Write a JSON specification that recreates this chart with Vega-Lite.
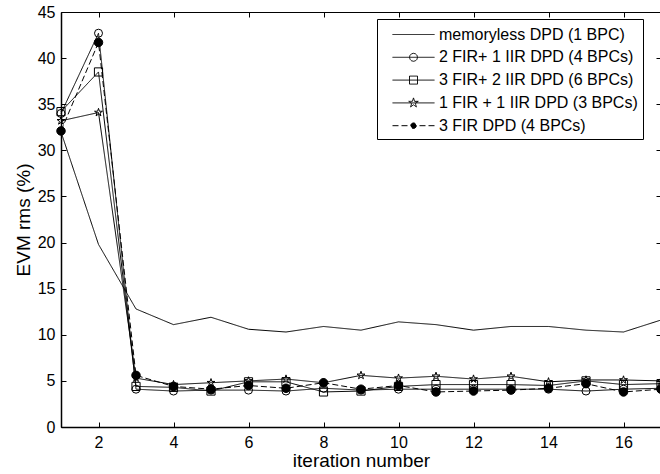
{
  "$schema": "https://vega.github.io/schema/vega-lite/v6.json",
  "width": 600,
  "height": 415,
  "autosize": {"type": "none"},
  "padding": {"left": 61, "top": 12, "right": 0, "bottom": 47},
  "background": "white",
  "config": {
    "view": {"stroke": "black", "strokeWidth": 1},
    "font": "Liberation Sans",
    "axis": {
      "grid": false,
      "domainColor": "black",
      "domainWidth": 1.5,
      "tickColor": "black",
      "tickSize": -5,
      "labelColor": "black",
      "titleColor": "black",
      "labelFont": "Liberation Sans",
      "labelFontSize": 16,
      "titleFont": "Liberation Sans",
      "titleFontSize": 19,
      "titleFontWeight": "normal"
    }
  },
  "data": {
    "values": [
      {"x": 1, "A": 32.0, "B": 34.0, "C": 34.2, "D": 33.2, "E": 32.1},
      {"x": 2, "A": 19.8, "B": 42.7, "C": 38.5, "D": 34.1, "E": 41.7},
      {"x": 3, "A": 12.8, "B": 4.1, "C": 4.4, "D": 5.3, "E": 5.6},
      {"x": 4, "A": 11.1, "B": 3.9, "C": 4.3, "D": 4.6, "E": 4.4},
      {"x": 5, "A": 11.9, "B": 4.0, "C": 3.9, "D": 4.8, "E": 4.1},
      {"x": 6, "A": 10.6, "B": 4.0, "C": 4.9, "D": 5.0, "E": 4.5},
      {"x": 7, "A": 10.3, "B": 3.9, "C": 4.9, "D": 5.2, "E": 4.2},
      {"x": 8, "A": 10.9, "B": 4.2, "C": 3.8, "D": 4.8, "E": 4.8},
      {"x": 9, "A": 10.5, "B": 4.0, "C": 3.9, "D": 5.6, "E": 4.1},
      {"x": 10, "A": 11.4, "B": 4.1, "C": 4.4, "D": 5.3, "E": 4.5},
      {"x": 11, "A": 11.1, "B": 4.1, "C": 4.6, "D": 5.5, "E": 3.8},
      {"x": 12, "A": 10.5, "B": 4.1, "C": 4.6, "D": 5.2, "E": 3.9},
      {"x": 13, "A": 10.9, "B": 4.1, "C": 4.6, "D": 5.5, "E": 4.0},
      {"x": 14, "A": 10.9, "B": 4.1, "C": 4.5, "D": 4.9, "E": 4.2},
      {"x": 15, "A": 10.5, "B": 3.9, "C": 5.0, "D": 5.1, "E": 4.7},
      {"x": 16, "A": 10.3, "B": 4.1, "C": 4.6, "D": 5.1, "E": 3.8},
      {"x": 17, "A": 11.6, "B": 4.2, "C": 4.7, "D": 5.0, "E": 4.1}
    ]
  },
  "transform": [{"fold": ["A", "B", "C", "D", "E"], "as": ["s", "y"]}],
  "layer": [
    {
      "mark": {"type": "line", "strokeWidth": 1},
      "encoding": {
        "x": {
          "field": "x", "type": "quantitative",
          "scale": {"domain": [1, 17], "nice": false, "zero": false},
          "axis": {"values": [2, 4, 6, 8, 10, 12, 14, 16], "title": "iteration number", "labelPadding": 12, "titlePadding": 1}
        },
        "y": {
          "field": "y", "type": "quantitative",
          "scale": {"domain": [0, 45], "nice": false},
          "axis": {"values": [0, 5, 10, 15, 20, 25, 30, 35, 40, 45], "title": "EVM rms (%)", "labelPadding": 11, "titlePadding": 4}
        },
        "stroke": {
          "field": "s", "type": "nominal",
          "scale": {"domain": ["A", "B", "C", "D", "E"], "range": ["black", "black", "black", "black", "black"]},
          "legend": {
            "orient": "none", "legendX": 316, "legendY": 7,
            "title": null,
            "strokeColor": "black", "fillColor": "white", "padding": 5,
            "symbolSize": 400, "symbolStrokeWidth": 1, "symbolStrokeColor": "black",
            "labelFont": "Liberation Sans", "labelFontSize": 16, "labelColor": "black",
            "labelOffset": 36, "rowPadding": 3.8, "labelLimit": 300,
            "labelExpr": "datum.value=='A'?'memoryless DPD (1 BPC)':datum.value=='B'?'2 FIR+ 1 IIR DPD (4 BPCs)':datum.value=='C'?'3 FIR+ 2 IIR DPD (6 BPCs)':datum.value=='D'?'1 FIR + 1 IIR DPD (3 BPCs)':'3 FIR DPD (4 BPCs)'",
            "encode": {
              "symbols": {
                "update": {
                  "shape": {"signal": "datum.value=='A'?'M-1.3,0L-1.3,0M0,0H4.2':datum.value=='B'?'M-1.3,0L-1.3,0M0,0H4.2M2.5,0L2.446,0.2L2.3,0.346L2.1,0.4L1.9,0.346L1.754,0.2L1.7,0L1.754,-0.2L1.9,-0.346L2.1,-0.4L2.3,-0.346L2.446,-0.2Z':datum.value=='C'?'M-1.3,0L-1.3,0M0,0H4.2M1.7,-0.4H2.5V0.4H1.7Z':datum.value=='D'?'M-1.3,0L-1.3,0M0,0H4.2M2.1,-0.5L2.212,-0.155L2.576,-0.155L2.282,0.059L2.394,0.405L2.1,0.191L1.806,0.405L1.918,0.059L1.624,-0.155L1.988,-0.155Z':'M-1.3,0L-1.3,0M0,0H4.2M2.38,0L2.34,0.14L2.24,0.24L2.1,0.28L1.96,0.24L1.86,0.14L1.82,0L1.86,-0.14L1.96,-0.24L2.1,-0.28L2.24,-0.24L2.34,-0.14Z'"},
                  "fill": {"signal": "datum.value=='E'?'black':'transparent'"},
                  "strokeDash": {"signal": "datum.value=='E'?[6,3]:[1,0]"}
                }
              }
            }
          }
        },
        "strokeDash": {
          "field": "s", "type": "nominal",
          "scale": {"domain": ["A", "B", "C", "D", "E"], "range": [[1, 0], [1, 0], [1, 0], [1, 0], [6, 3]]},
          "legend": null
        }
      }
    },
    {
      "transform": [{"filter": "datum.s != 'A'"}],
      "mark": {"type": "point", "filled": true, "opacity": 1, "stroke": "black", "strokeWidth": 1},
      "encoding": {
        "x": {
          "field": "x", "type": "quantitative",
          "axis": {"orient": "top", "labels": false, "title": null, "domain": false, "values": [2, 4, 6, 8, 10, 12, 14, 16]}
        },
        "y": {
          "field": "y", "type": "quantitative",
          "axis": {"orient": "right", "labels": false, "title": null, "domain": false, "values": [0, 5, 10, 15, 20, 25, 30, 35, 40, 45]}
        },
        "shape": {
          "field": "s", "type": "nominal",
          "scale": {"domain": ["B", "C", "D", "E"], "range": ["circle", "square", "M0,-1L0.225,-0.309L0.951,-0.309L0.363,0.118L0.588,0.809L0,0.382L-0.588,0.809L-0.363,0.118L-0.951,-0.309L-0.225,-0.309Z", "circle"]},
          "legend": null
        },
        "size": {
          "field": "s", "type": "ordinal",
          "scale": {"domain": ["B", "C", "D", "E"], "range": [64, 72, 100, 30]},
          "legend": null
        },
        "fill": {
          "field": "s", "type": "nominal",
          "scale": {"domain": ["B", "C", "D", "E"], "range": ["transparent", "transparent", "transparent", "black"]},
          "legend": null
        }
      }
    }
  ],
  "resolve": {"axis": {"x": "independent", "y": "independent"}}
}
